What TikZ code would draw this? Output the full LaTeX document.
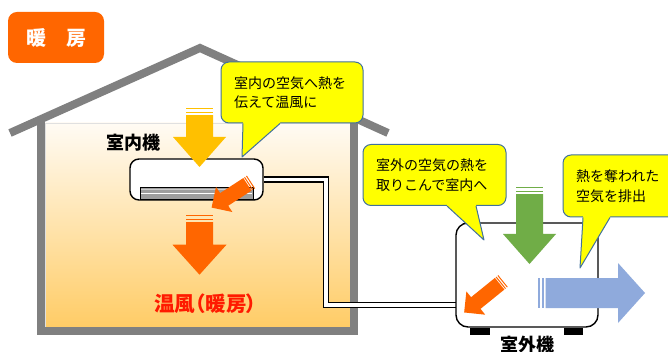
\documentclass[tikz,border=0pt]{standalone}
\usepackage{fontspec}
\setmainfont{Noto Sans CJK JP}
\newfontfamily\jpprop[RawFeature=+palt]{Noto Sans CJK JP}
\usetikzlibrary{positioning}
\definecolor{corange}{HTML}{FF6600}
\definecolor{cgold}{HTML}{FFC000}
\definecolor{cgreen}{HTML}{70AD47}
\definecolor{cblue}{HTML}{8FAADC}
\definecolor{cyellow}{HTML}{FFFF00}
\definecolor{cedge}{HTML}{41719C}
\definecolor{cwall}{HTML}{808080}
\definecolor{cwarmtop}{HTML}{FFFBF4}
\definecolor{cwarmbot}{HTML}{FFCC66}
\definecolor{cred}{HTML}{FF1A00}

% striped block arrow: colour, tail, angle, length, shaft, head, head length, stripe
\newcommand{\flowarrow}[8]{%
  \begin{scope}[shift={(#2)}, rotate=-#3]
    \fill[#1] (0,-#5) rectangle (#8,#5);
    \fill[#1] (2.35*#8,-#5) rectangle (3.35*#8,#5);
    \fill[#1] (4.3*#8,-#5) -- (#4-#7,-#5) -- (#4-#7,-#6) -- (#4,0)
      -- (#4-#7,#6) -- (#4-#7,#5) -- (4.3*#8,#5) -- cycle;
  \end{scope}}

% pointer under a bubble: node, left x, right x, tip
\newcommand{\calltail}[4]{%
  \fill[cyellow] (#2,0 |- #1.south) ++(0,-2.5) -- (#2,0 |- #1.south) -- (#4)
    -- (#3,0 |- #1.south) -- ++(0,-2.5) -- cycle;
  \draw[cedge, line width=1pt, line join=round] (#2,0 |- #1.south) -- (#4) -- (#3,0 |- #1.south);}

\begin{document}
\begin{tikzpicture}[x=1pt, y=-1pt,
  titlebox/.style={fill=corange, text=white, rounded corners=9pt, minimum width=96pt,
                   minimum height=51pt, font=\fontsize{20}{24}\selectfont\bfseries},
  unit/.style={draw=black, fill=white, line width=1.4pt, rounded corners=9pt},
  bubble/.style={draw=cedge, fill=cyellow, line width=1pt, rounded corners=8pt, align=left,
                 inner xsep=13pt, inner ysep=0pt, minimum height=61pt,
                 font=\fontsize{14}{19.5}\selectfont},
  lbl/.style={font=\fontsize{18}{22}\selectfont\bfseries, inner sep=0pt},
  wall/.style={draw=cwall, line width=8pt},
  pipe/.style={draw=black, line width=1.3pt, double=white, double distance=3.6pt}
]
\useasboundingbox (0,0) rectangle (668,352);
\clip (0,0) rectangle (668,352);
\fill[white] (0,0) rectangle (668,352);

% house
\shade[top color=cwarmtop, bottom color=cwarmbot, draw=black!12] (45,123) rectangle (350,327);
\draw[wall] (41,118) -- (41,331) -- (353.5,331) -- (353.5,116);
\draw[wall] (10,133) -- (200,48) -- (388,133);

% units and pipe
\node[unit, minimum width=133pt, minimum height=41pt] (indoor) at (196.5,179.5) {};
\draw[fill=black!38, line width=0.9pt] (140,187) rectangle (253,199.5);
\draw[black!20, line width=1.6pt] (141,189.5) -- (252,189.5);
\draw[white, line width=1.2pt] (141,193.5) -- (252,193.5);
\coordinate (bend) at (326,305);
\draw[pipe] (indoor.east) -| (bend) -- (bend -| 456,0);
\node[unit, rounded corners=12pt, minimum width=142pt, minimum height=104pt] (outdoor) at (527,275) {};
\fill (470,327.5) rectangle (490,335);
\fill (564,327.5) rectangle (583,335);

% air flows
\flowarrow{cgold}{199.5,107.7}{90}{59.3}{13.5}{26.5}{30}{1.7}
\flowarrow{corange}{199.5,214.7}{90}{60}{13.5}{27}{30}{1.7}
\flowarrow{corange}{251,182}{147}{47}{7.5}{15}{15}{1}
\flowarrow{cgreen}{529.5,186.7}{90}{77.3}{13.5}{26.5}{30}{1.7}
\flowarrow{cblue}{538.3,293}{0}{106.7}{15}{30}{27}{1.7}
\flowarrow{corange}{503,281}{141}{50}{7.5}{15}{15}{1}

% bubbles
\node[bubble, text width=116pt] (msgin) at (292,92.5) {室内の空気へ熱を\\伝えて温風に};
\calltail{msgin}{243}{280}{242,157}
\node[bubble, text width=117pt] (msgout) at (434.5,175) {室外の空気の熱を\\取りこんで室内へ};
\calltail{msgout}{447}{476}{484,240}
\node[bubble, text width=96pt, minimum height=62pt] (msgexh) at (624,186) {熱を奪われた\\空気を排出};
\calltail{msgexh}{583}{610}{580,268}

% labels
\node[lbl] (indoorlbl) at (133.5,143) {室内機};
\node[lbl] (outdoorlbl) at (527,344.5) {室外機};
\node[lbl, text=cred, font=\jpprop\fontsize{20.5}{24}\selectfont\bfseries] (warmlbl) at (205.5,304) {温風（暖房）};
\node[titlebox] (title) at (56,37.5) {暖　房};
\end{tikzpicture}
\end{document}
